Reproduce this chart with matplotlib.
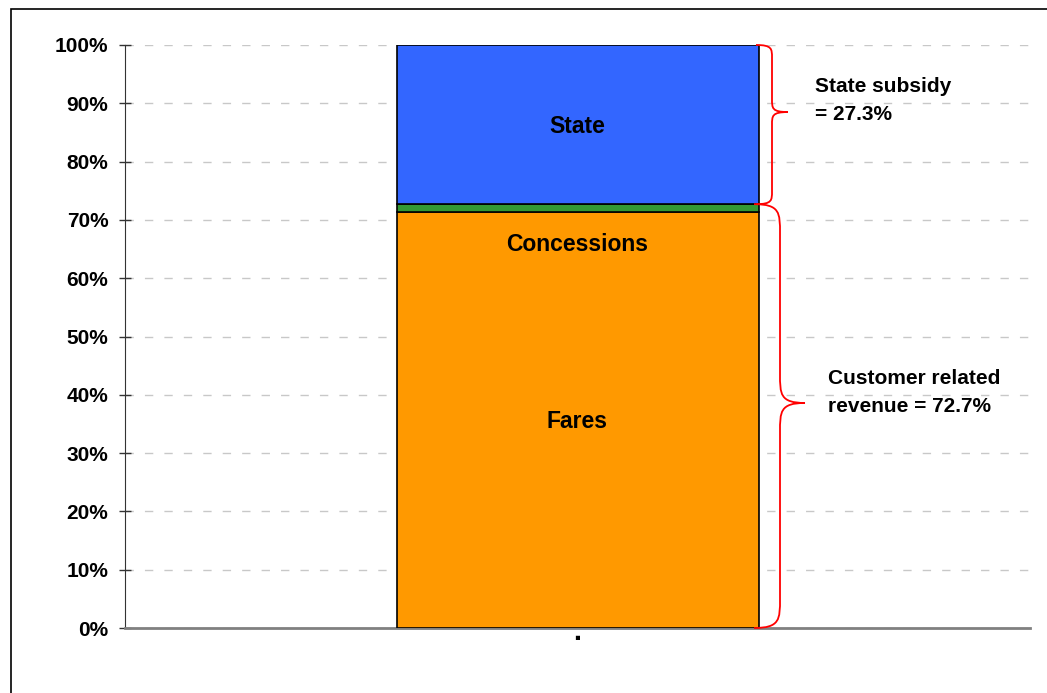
import numpy as np
import matplotlib.pyplot as plt
from matplotlib.path import Path
from matplotlib.patches import PathPatch, Rectangle

plt.rcParams['font.family'] = ['Liberation Sans', 'DejaVu Sans']

# data
segments = ['Fares', 'Concessions', 'State']
values = [71.4, 1.3, 27.3]
colors = ['#FF9900', '#339933', '#3366FF']
label_pos = [35.5, 65.7, 86.0]
groups = ['State subsidy\n= 27.3%', 'Customer related\nrevenue = 72.7%']
group_ranges = [(72.7, 100.0), (0.0, 72.7)]
group_tips = [88.5, 38.6]
yticks = np.arange(0, 101, 10)

fig = plt.figure(figsize=(10.47, 6.93), dpi=100)
W, H = 1047, 693
ax = fig.add_axes([125 / W, 1 - 628 / H, 905 / W, 583 / H])

# figure border (only left/top visible)
fig.patches.append(Rectangle((11 / W, -0.1), 1.2, 1 - 9 / H + 0.1,
                             transform=fig.transFigure, fill=False,
                             edgecolor='black', lw=1.2))

bottom = 0
for name, v, c, ly in zip(segments, values, colors, label_pos):
    ax.bar(0, v, bottom=bottom, width=0.4, color=c, edgecolor='black', lw=1.2, zorder=3)
    ax.text(0, ly, name, ha='center', va='center', fontsize=16.5, fontweight='bold', zorder=4)
    bottom += v

ax.set_xlim(-0.5, 0.5)
ax.set_ylim(0, 100)
ax.set_yticks(yticks)
ax.set_yticklabels([f'{t}%' for t in yticks], fontsize=15, fontweight='bold')
ax.tick_params(axis='y', direction='inout', length=8, width=1, color='#333333', pad=8)
ax.set_xticks([0])
ax.set_xticklabels(['\u25aa'], fontsize=12)
ax.tick_params(axis='x', length=0, pad=2)
ax.grid(axis='y', color='#c8c8c8', ls=(0, (6, 8)), lw=1)
ax.set_axisbelow(True)
for s in ['top', 'right']:
    ax.spines[s].set_visible(False)
ax.spines['left'].set_color('#333333')
ax.spines['bottom'].set_color('#808080')
ax.spines['bottom'].set_linewidth(2)


def px(x):
    return (x - 577.5) / 905


def brace(y0, y1, tip, x0, xv, xt):
    # curly brace from y0 (bottom) to y1 (top) with tip at height tip
    d = (y1 - y0)
    c = min(0.08 * d, 5)
    verts = [
        (x0, y1),
        (xv, y1), (xv, y1 - c * 0.3), (xv, y1 - c),
        (xv, tip + c),
        (xv, tip + c * 0.3), (xv, tip), (xt, tip),
        (xv, tip), (xv, tip - c * 0.3), (xv, tip - c),
        (xv, y0 + c),
        (xv, y0 + c * 0.3), (xv, y0), (x0, y0),
    ]
    codes = [Path.MOVETO,
             Path.CURVE4, Path.CURVE4, Path.CURVE4,
             Path.LINETO,
             Path.CURVE4, Path.CURVE4, Path.CURVE4,
             Path.CURVE4, Path.CURVE4, Path.CURVE4,
             Path.LINETO,
             Path.CURVE4, Path.CURVE4, Path.CURVE4]
    ax.add_patch(PathPatch(Path(verts, codes), fill=False, edgecolor='red',
                           lw=1.3, clip_on=False, zorder=5))


brace(group_ranges[0][0], group_ranges[0][1], group_tips[0], px(756), px(772), px(788))
brace(group_ranges[1][0], group_ranges[1][1], group_tips[1], px(754), px(780), px(805))

ax.text(px(815), 90.5, groups[0], ha='left', va='center', fontsize=15,
        fontweight='bold', linespacing=1.6)
ax.text(px(828), 40.4, groups[1], ha='left', va='center', fontsize=15,
        fontweight='bold', linespacing=1.6)

fig.savefig('out.png', dpi=100)
